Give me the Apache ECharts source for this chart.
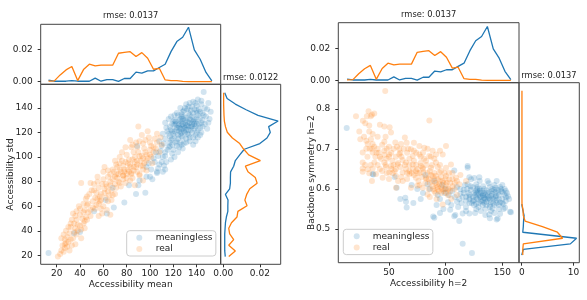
<!DOCTYPE html>
<html><head><meta charset="utf-8">
<script src="https://cdn.jsdelivr.net/npm/echarts@6/dist/echarts.min.js"></script>
<style>html,body{margin:0;padding:0;background:#fff}#c{width:587px;height:300px}</style>
</head><body><div id="c"></div>
<script>
// ---------- data ----------
const topBinsL = [13,18,23,28,33,38,43,48,53,58,63,68,73,78,83,88,93,98,103,108,113,118,123,128,133,138,143,148,153];
const topBinsR = [13.0,18.2,23.3,28.5,33.6,38.8,44.0,49.1,54.3,59.4,64.6,69.8,74.9,80.1,85.2,90.4,95.6,100.7,105.9,111.0,116.2,121.4,126.5,131.7,136.8,142.0,147.2,152.3,157.5];
const topReal = [0.0003,0.0004,0.0041,0.0072,0.0093,0.0006,0.0074,0.0107,0.0097,0.0101,0.0101,0.0101,0.0175,0.0181,0.0185,0.0155,0.0179,0.0144,0.0076,0.0082,0.0010,0.0006,0.0006,0.0001,0,0,0,0,0];
const topMeaningless = [0.0008,0.0002,0.0002,0.0002,0.0006,0.0002,0.0002,0.0002,0.0021,0.0002,0.0012,0.0012,0.0001,0.0019,0.0019,0.0058,0.0052,0.0066,0.0066,0.0087,0.0107,0.0185,0.0247,0.0274,0.0336,0.0196,0.0138,0.0056,0.0004];

const sideBinsL = [19.0,23.6,28.2,32.8,37.4,42.0,46.6,51.2,55.8,60.4,65.0,69.6,74.2,78.8,83.4,88.0,92.6,97.2,101.8,106.4,111.0,115.6,120.2,124.8,129.4,134.0,138.6,143.2,147.8,152.4];
const sideRealL = [0.0030,0.0066,0.0030,0.0057,0.0035,0.0030,0.0045,0.0075,0.0080,0.0130,0.0118,0.0128,0.0145,0.0185,0.0175,0.0135,0.0121,0.0203,0.0139,0.0112,0.0090,0.0050,0.0022,0.0012,0.0006,0.0004,0.0003,0.0002,0.0002,0.0002];
const sideMeaningL = [0.0011,0.0008,0.0008,0.0008,0.0008,0.0010,0.0012,0.0017,0.0025,0.0025,0.0026,0.0012,0.0035,0.0039,0.0039,0.0040,0.0057,0.0066,0.0090,0.0115,0.0200,0.0239,0.0257,0.0248,0.0300,0.0190,0.0125,0.0066,0.0021,0.0008];

const sideBinsR = [0.435,0.449,0.463,0.477,0.492,0.506,0.520,0.534,0.548,0.562,0.576,0.591,0.605,0.619,0.633,0.647,0.661,0.675,0.690,0.704,0.718,0.732,0.746,0.760,0.774,0.789,0.803,0.817,0.831,0.845];
const sideRealR = [0.2,0.2,0.3,7.9,6.9,4.0,0.64,0.3,0.25,0.05,0.04,0.04,0.04,0.04,0.04,0.04,0.04,0.04,0.04,0.04,0.04,0.04,0.04,0.04,0.04,0.04,0.04,0.04,0.04,0.04];
const sideMeaningR = [0.0,0.3,9.4,10.6,0.2,0.3,0.35,0.45,0.2,0.0];

const scatterMeanL = [[13,22],[35,38],[40,39],[52,56],[63,54],[62,65],[68,75],[69,59],[78,63],[82,77],[88,70],[90,77],[91,81],[96,71],[100,84],[102,82],[106,87],[111,88],[97,84],[89,109],[104,96],[108,94],[101,90],[106,88],[113,90],[107,101],[113,104],[119,103],[110,109],[117,109],[123,109],[129,111],
[113,115],[119,115],[124,115],[131,115],[137,116],[141,116],[116,119],[120,119],[126,119],[130,120],[136,120],[140,120],[114,124],[123,124],[127,126],[131,126],[136,127],[140,127],[143,124],[116,131],[119,127],[126,131],[131,132],[134,134],[141,134],[123,136],[129,138],[136,141],[140,142],[144,143],[149,139],
[146,153],[141,147],[144,146],[150,144],[152,137],[137,145],[133,141],[130,140],[135,138],[142,139],[147,140],[128,137],
[118,122],[121,126],[125,121],[128,123],[133,122],[135,125],[138,123],[132,129],[127,129],[122,129],[118,133],[124,134],[129,133],[138,131],[140,136],[145,130],[147,127],[144,120],[148,133],[151,131],[128,116],[133,118],[126,112],[122,112],[117,112],[115,106],[120,106],[111,100],[109,105],[114,96],[118,98],[124,104],[125,108],[134,113],[139,113],[145,125],[149,123],[131,143],[126,140],[121,130],[113,128],[111,119],[108,113],[105,104],[103,99],[99,95],[107,91],[112,93],[97,92],
[130,124],[134,128],[128,127],[125,124],[137,129],[132,119],[129,121],[136,133],[127,133],[121,121],[124,118],[139,125],
[117,117],[121,117],[127,117],[134,116],[139,118],[143,118],[115,121],[119,121],[123,122],[131,122],[135,122],[141,122],[117,125],[122,127],[129,125],[133,125],[138,127],[142,127],[120,129],[125,130],[130,130],[135,130],[139,129],[143,132],[121,134],[127,135],[133,136],[137,136],[143,137],[132,139],[138,139],[145,136],[125,127],[130,128],[136,125],[112,111],[119,110],[127,110],[131,112],[116,108],[113,101],[110,96],[121,100],[128,107],[137,110],[124,126],[128,131],[134,131],[140,131],[146,134],[118,114],[123,113],[140,138],[144,128],[150,128],[139,144],[134,144],[127,120],[132,126],[126,123]];

const scatterRealL = [[21,19],[24,24],[26,23],[29,27],[33,28],[36,29],[30,31],[24,34],[27,33],[34,34],[31,38],[37,37],[36,42],[41,41],[30,43],[33,49],[37,49],[43,46],[46,49],[49,52],[34,54],[37,56],[40,53],[49,57],[53,58],[46,61],[51,64],[56,62],[60,60],[59,54],[63,57],[66,53],[57,68],[61,71],[54,71],[50,73],[56,75],[49,79],[63,76],[67,73],[71,75],[66,80],[73,80],[79,79],[83,81],[87,77],[70,84],[77,85],[84,87],[91,85],[74,90],[81,90],[89,88],[94,81],
[90,125],[106,119],[109,116],[99,116],[83,114],[94,111],[89,108],[103,108],[106,112],[74,100],[80,102],[86,104],[91,101],[97,97],[101,100],[94,93],[89,94],[83,94],[77,93],[71,94],[66,86],[71,86],[77,85],[84,86],[91,86],[97,89],[60,82],[41,79],
[62,78],[68,82],[75,88],[79,96],[85,98],[92,97],[96,104],[100,106],[87,100],[82,98],[78,90],[72,83],[65,69],[58,65],[53,67],[47,62],[44,57],[42,50],[38,45],[32,46],[28,40],[26,37],[45,66],[52,78],[60,88],[68,90],[74,95],[88,112],[95,107],[100,112],[104,115],[93,118],[98,121],[86,92],[80,86],[70,70],[64,64],[58,58],[61,92],[55,84],[48,70],[43,55],[39,60],[35,46],[27,26],[23,21],[31,24],[41,34],[44,42],[56,52],[67,65],[75,76],[85,83],[94,90],[102,95],[108,104],[110,110],[84,108],[79,108],[76,104],
[25,28],[28,30],[32,33],[35,39],[38,40],[40,44],[45,51],[47,55],[51,59],[54,61],[57,64],[62,67],[64,72],[68,69],[70,78],[74,79],[77,82],[80,83],[82,88],[86,89],[88,92],[92,93],[95,95],[98,99],[100,102],[103,104],[105,107],[90,104],[93,101],[87,96],[81,95],[76,97],[72,92],[69,88],[64,84],[59,78],[55,80],[52,73],[46,68],[43,62],[40,58],[36,52],[32,43],[29,35],[27,29],[44,48],[55,66],[61,74],[66,77],[73,86],[78,88],[83,92],[89,97],[94,99],[97,102],[101,109],[85,110],[91,113],[96,114],[70,97],[64,89],[58,70]];

const scatterMeanR = [[12.7,0.752],[35.6,0.637],[36.2,0.636],[56.8,0.603],[64.4,0.578],[65,0.568],[65.6,0.554],[71.5,0.565],[89,0.531],[90,0.528],[107.6,0.646],[119.4,0.657],[120.9,0.629],[125.3,0.627],[129.7,0.629],[115,0.463],[123.2,0.44],[108.5,0.535],[115,0.539],[107.6,0.532],[120.9,0.539],[139,0.527],[145,0.524],[156.8,0.543],[152.4,0.553],[157.6,0.542],[145.9,0.526],[138.5,0.536],
[117.9,0.555],[120.9,0.575],[126.8,0.592],[132.7,0.583],[138.5,0.592],[144.4,0.583],[150.3,0.592],[153.2,0.579],[141.5,0.551],[132.7,0.559],[126.8,0.563],[119.4,0.612],[122.4,0.624],[119.4,0.653],
[128,0.575],[131,0.57],[134,0.578],[136,0.568],[139,0.574],[142,0.565],[145,0.572],[148,0.566],[136,0.596],[141,0.6],[146,0.598],[130,0.6],[124,0.604],[127,0.612],[133,0.607],[138,0.614],[143,0.61],[148,0.605],[152,0.6],[124,0.58],[120,0.59],[116,0.598],[113,0.588],[112,0.575],[118,0.57],[123,0.565],[129,0.555],[135,0.55],[140,0.545],[147,0.55],[151,0.562],[154,0.59],[150,0.575],[134,0.59],[129,0.585],[127,0.597],[144,0.592],[137,0.582],[131,0.59],[125,0.572],[140,0.583],[147,0.585],[122,0.598],[117,0.61],[110,0.605],[106,0.595],[103,0.585],[108,0.58],[100,0.6],[97,0.61],[95,0.575],[102,0.567],[105,0.56],[111,0.555],[114,0.565],[118,0.545],[126,0.54],[131,0.545],[135,0.535],[143,0.54],[148,0.538],[153,0.57],[155,0.582],[150,0.61],[145,0.62],[137,0.62],[130,0.62],[128,0.605],[134,0.565],[139,0.56],[142,0.575],[121,0.585],[115,0.58],[113,0.6],[110,0.568],[99,0.59],[93,0.585],[86,0.6],[84,0.612],[80,0.59],[75,0.6],[78,0.575],[92,0.56],[98,0.55],[104,0.548],[112,0.52],[95,0.54],[60,0.575],[55,0.63],[82,0.635],[90,0.62],[70,0.61],
[121,0.58],[125,0.59],[128,0.59],[132,0.595],[135,0.585],[138,0.578],[141,0.588],[143,0.598],[146,0.59],[149,0.595],[152,0.585],[124,0.57],[127,0.578],[130,0.58],[133,0.572],[137,0.575],[140,0.567],[144,0.578],[147,0.575],[150,0.565],[125,0.56],[129,0.565],[132,0.568],[136,0.56],[139,0.555],[143,0.56],[147,0.56],[151,0.55],[122,0.607],[128,0.6],[134,0.6],[139,0.605],[144,0.603],[149,0.6],[126,0.585],[131,0.58],[135,0.575],[142,0.58],[153,0.595],[156,0.575],[119,0.6],[116,0.59],[118,0.58],[121,0.565],[137,0.59],[133,0.585],[130,0.595],[141,0.595],[145,0.565],[127,0.55]];

const scatterRealR = [[46.7,0.844],[20.9,0.781],[32,0.794],[30.5,0.781],[34,0.781],[37,0.788],[35,0.785],[29.1,0.764],[32.6,0.758],[45.9,0.756],[50.6,0.754],[51.8,0.741],[85.6,0.771],[23.8,0.743],[32.6,0.743],[35.6,0.737],[24.7,0.724],[34.1,0.724],[31.2,0.712],[35.6,0.712],[45.9,0.718],[55.6,0.716],[60.6,0.712],[65.6,0.715],[69.4,0.699],[76.8,0.707],[81.2,0.703],[88.5,0.695],[100.3,0.707],[26.8,0.691],[35.6,0.691],[45.9,0.695],[50.3,0.686],[59.1,0.699],[59.1,0.686],[70.9,0.682],[76.8,0.686],[85.6,0.682],[91.5,0.686],[97.4,0.686],[91.5,0.666],[26.8,0.666],[37.1,0.666],[45.9,0.666],[51.8,0.657],[57.6,0.661],[65,0.666],[70.9,0.661],[78.3,0.657],[82.7,0.67],[87.1,0.653],[100.3,0.653],[104.7,0.661],[26.8,0.643],[31.2,0.649],[38.5,0.637],[44.4,0.628],[50.3,0.641],[56.2,0.632],[62.1,0.641],[67.9,0.637],[73.8,0.645],[80.3,0.641],[88.5,0.632],[94.4,0.641],[100.3,0.632],[109.1,0.628],
[26.8,0.651],[47.4,0.655],[53.2,0.639],[56.2,0.603],[62.1,0.62],[67.9,0.645],[79.7,0.653],[73.8,0.628],[82.6,0.628],[91.5,0.632],[97.4,0.62],[94.4,0.612],[103.2,0.624],[106.2,0.607],[79.7,0.603],[84.1,0.586],[97.4,0.561],[100.3,0.59],[112,0.612],[92.9,0.599],[88.5,0.607],[69.4,0.603],[35.6,0.651],[32.6,0.639],
[40,0.7],[42,0.68],[48,0.675],[53,0.67],[56,0.68],[62,0.672],[66,0.69],[72,0.67],[75,0.65],[78,0.665],[83,0.66],[86,0.645],[90,0.64],[93,0.625],[96,0.63],[98,0.615],[99,0.6],[102,0.6],[104,0.615],[96,0.605],[94,0.595],[91,0.615],[88,0.62],[85,0.625],[82,0.615],[76,0.62],[72,0.635],[65,0.65],[60,0.655],[55,0.645],[50,0.625],[44,0.645],[40,0.66],[38,0.68],[30,0.7],[28,0.73],[40,0.73],[44,0.71],[50,0.705],[63,0.7],[72,0.695],[80,0.69],[84,0.7],[90,0.675],[95,0.66],[106,0.64],[110,0.62],[108,0.6],[90,0.595],[86,0.58],[102,0.585],[75,0.608],[66,0.625],[58,0.62],[48,0.64],[35,0.62],[52,0.69],[68,0.675],[78,0.68],[88,0.66],[96,0.645],[100,0.625],[103,0.64],[57,0.705],[64,0.728],[42,0.76],[27,0.77],[47,0.73],[72,0.715],[95,0.695],[113,0.635],[118,0.62],[110,0.585],[105,0.575],[92,0.575],
[30,0.72],[33,0.7],[37,0.705],[41,0.69],[46,0.685],[50,0.68],[54,0.66],[58,0.665],[61,0.68],[64,0.66],[68,0.66],[71,0.65],[74,0.66],[77,0.64],[80,0.65],[84,0.64],[87,0.635],[90,0.625],[92,0.61],[95,0.62],[97,0.6],[100,0.61],[103,0.6],[98,0.595],[93,0.605],[89,0.6],[86,0.615],[83,0.625],[79,0.63],[75,0.64],[70,0.64],[66,0.64],[61,0.63],[56,0.65],[52,0.65],[47,0.66],[43,0.675],[39,0.69],[35,0.7],[31,0.68],[29,0.66],[34,0.66],[42,0.65],[48,0.7],[54,0.7],[60,0.69],[67,0.7],[74,0.69],[81,0.675],[87,0.68],[93,0.655],[99,0.64],[106,0.625],[101,0.615],[96,0.59],[91,0.59],[104,0.595],[108,0.615],[85,0.6],[77,0.61]];

const ticksMainLX = [20,40,60,80,100,120,140];
const ticksMainLY = [20,40,60,80,100,120,140];
const ticksTopY = [0, 0.02];
const ticksSideLX = [0, 0.02];
const ticksMainRX = [50,100,150];
const ticksMainRY = [0.5,0.6,0.7,0.8];
const ticksSideRX = [0, 10];

// ---------- chart ----------
const FONT = 'DejaVu Sans';
const BLUE = '#1f77b4', ORANGE = '#ff7f0e';
const BLUE_A = 'rgba(31,119,180,0.25)', ORANGE_A = 'rgba(255,127,14,0.25)';
const TXT = '#222';
const chart = echarts.init(document.getElementById('c'), null, {renderer:'canvas'});

function grid(l,t,w,h){return {left:l,top:t,width:w,height:h,show:true,borderColor:'#444',borderWidth:1,backgroundColor:'transparent'};}
function hiddenAxis(idx,min,max){return {type:'value',gridIndex:idx,min:min,max:max,axisLine:{show:false},axisTick:{show:false},axisLabel:{show:false},splitLine:{show:false}};}
function tickAxis(idx,min,max,ticks,fmt,margin){
  return {type:'value',gridIndex:idx,min:min,max:max,
    axisLine:{show:false},splitLine:{show:false},
    axisTick:{show:true,length:3,lineStyle:{color:'#333',width:1},customValues:ticks},
    axisLabel:{show:true,customValues:ticks,formatter:fmt,fontFamily:FONT,fontSize:9,color:TXT,margin:margin}};
}
const zipX = (xs,vs)=>xs.map((x,i)=>[x,vs[i]]);
const zipY = (ys,vs)=>vs.map((v,i)=>[v,ys[i]]);
const f2 = v=>v.toFixed(2), f1 = v=>v.toFixed(1), f0 = v=>String(Math.round(v));

function txt(text,x,y,size,rot){
  return {type:'text',x:x,y:y,rotation:rot||0,silent:true,
    style:{text:text,x:0,y:0,fill:TXT,font:size+'px "'+FONT+'"',textAlign:'center',textVerticalAlign:'middle'}};
}
function legend(left,top,padLeft,textPad){
  return {data:['meaningless','real'],orient:'vertical',left:left,top:top,padding:[2.5,3.3,2.5,padLeft],itemGap:2.3,itemWidth:6,itemHeight:6,icon:'circle',
    borderColor:'#ccc',borderWidth:1,borderRadius:3,backgroundColor:'rgba(255,255,255,0.8)',
    textStyle:{fontFamily:FONT,fontSize:9,color:TXT,padding:[0,0,0,textPad]}};
}

const option = {
  animation:false,
  grid:[grid(40.7,24.3,180,60),grid(40.7,84.3,180,180),grid(220.7,84.3,60,180),
        grid(338.3,22.7,180.7,60),grid(338.3,82.7,180.7,180),grid(519,82.7,60.3,180)],
  xAxis:[hiddenAxis(0,6.3,160.6),
         tickAxis(1,6.3,160.6,ticksMainLX,f0,5),
         tickAxis(2,-0.0014,0.0314,ticksSideLX,f2,5),
         hiddenAxis(3,5.3,164.7),
         tickAxis(4,5.3,164.7,ticksMainRX,f0,5),
         tickAxis(5,-0.53,11.13,ticksSideRX,f0,5)],
  yAxis:[tickAxis(0,-0.0017,0.0354,ticksTopY,f2,8),
         tickAxis(1,12.7,159.3,ticksMainLY,f0,8),
         hiddenAxis(2,12.7,159.3),
         tickAxis(3,-0.0015,0.036,ticksTopY,f2,8),
         tickAxis(4,0.416,0.865,ticksMainRY,f1,8),
         hiddenAxis(5,0.416,0.865)],
  legend:[legend(126.7,230.7,9.6,8.4), legend(343.3,229.3,10.4,8)],
  series:[
    {name:'meaningless',type:'scatter',xAxisIndex:1,yAxisIndex:1,data:scatterMeanL,symbolSize:6,itemStyle:{color:BLUE_A}},
    {name:'real',type:'scatter',xAxisIndex:1,yAxisIndex:1,data:scatterRealL,symbolSize:6,itemStyle:{color:ORANGE_A}},
    {name:'meaningless',type:'scatter',xAxisIndex:4,yAxisIndex:4,data:scatterMeanR,symbolSize:6,itemStyle:{color:BLUE_A}},
    {name:'real',type:'scatter',xAxisIndex:4,yAxisIndex:4,data:scatterRealR,symbolSize:6,itemStyle:{color:ORANGE_A}},
    {name:'m_top_L',type:'line',xAxisIndex:0,yAxisIndex:0,data:zipX(topBinsL,topMeaningless),showSymbol:false,lineStyle:{color:BLUE,width:1.3},itemStyle:{color:BLUE}},
    {name:'r_top_L',type:'line',xAxisIndex:0,yAxisIndex:0,data:zipX(topBinsL,topReal),showSymbol:false,lineStyle:{color:ORANGE,width:1.3},itemStyle:{color:ORANGE}},
    {name:'m_side_L',type:'line',xAxisIndex:2,yAxisIndex:2,data:zipY(sideBinsL,sideMeaningL),showSymbol:false,lineStyle:{color:BLUE,width:1.3},itemStyle:{color:BLUE}},
    {name:'r_side_L',type:'line',xAxisIndex:2,yAxisIndex:2,data:zipY(sideBinsL,sideRealL),showSymbol:false,lineStyle:{color:ORANGE,width:1.3},itemStyle:{color:ORANGE}},
    {name:'m_top_R',type:'line',xAxisIndex:3,yAxisIndex:3,data:zipX(topBinsR,topMeaningless),showSymbol:false,lineStyle:{color:BLUE,width:1.3},itemStyle:{color:BLUE}},
    {name:'r_top_R',type:'line',xAxisIndex:3,yAxisIndex:3,data:zipX(topBinsR,topReal),showSymbol:false,lineStyle:{color:ORANGE,width:1.3},itemStyle:{color:ORANGE}},
    {name:'m_side_R',type:'line',xAxisIndex:5,yAxisIndex:5,data:zipY(sideBinsR,sideMeaningR),showSymbol:false,lineStyle:{color:BLUE,width:1.3},itemStyle:{color:BLUE}},
    {name:'r_side_R',type:'line',xAxisIndex:5,yAxisIndex:5,data:zipY(sideBinsR,sideRealR),showSymbol:false,lineStyle:{color:ORANGE,width:1.3},itemStyle:{color:ORANGE}}
  ],
  graphic:[
    txt('rmse: 0.0137',130.7,15.7,8.3),
    txt('rmse: 0.0122',250.7,77.7,8.3),
    txt('rmse: 0.0137',428.7,15.3,8.3),
    txt('rmse: 0.0137',548.9,76,8.3),
    txt('Accessibility mean',130.7,285,9),
    txt('Accessibility std',11,174.3,9,Math.PI/2),
    txt('Accessibility h=2',428.7,283.3,9),
    txt('Backbone symmetry h=2',311.7,172.7,9,Math.PI/2)
  ]
};
chart.setOption(option);
</script></body></html>
